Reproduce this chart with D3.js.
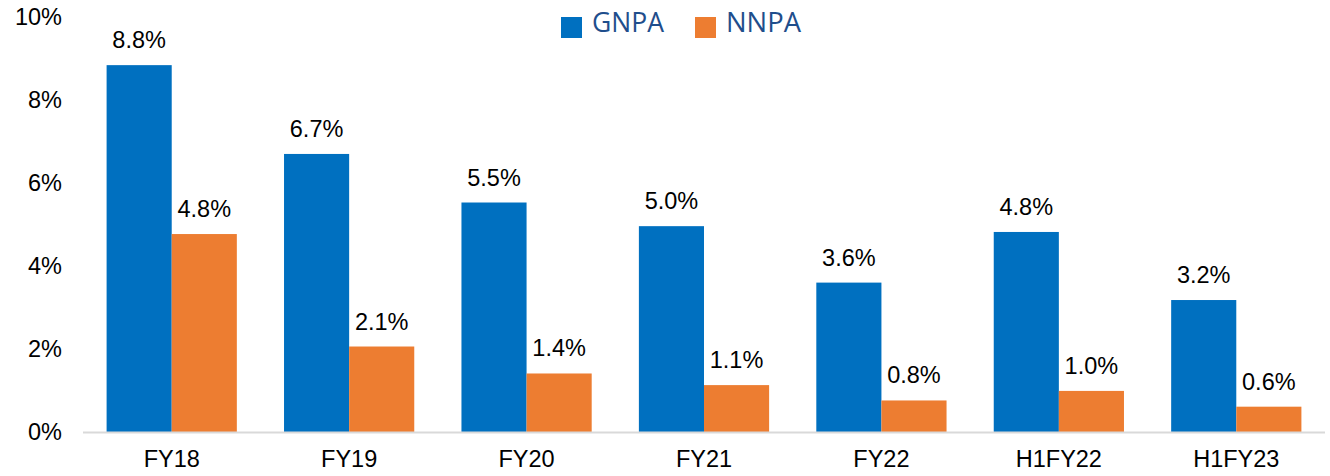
<!DOCTYPE html>
<html>
<head>
<meta charset="utf-8">
<script src="https://cdn.jsdelivr.net/npm/d3@7"></script>
<style>
  body { margin: 0; background: #fff; }
  svg text { font-family: "Liberation Sans", Arial, sans-serif; }
</style>
</head>
<body>
<svg id="chart" width="1330" height="476"></svg>
<script>
var categories = ['FY18', 'FY19', 'FY20', 'FY21', 'FY22', 'H1FY22', 'H1FY23'];
var gnpa = [8.84, 6.7, 5.53, 4.96, 3.6, 4.82, 3.18];
var nnpa = [4.77, 2.06, 1.41, 1.13, 0.76, 0.99, 0.61];
var yTicks = [0, 2, 4, 6, 8, 10];
var seriesNames = ['GNPA', 'NNPA'];
var colors = ['#0070C0', '#ED7D31'];

var svg = d3.select('#chart');
var margin = {left: 83, right: 5, top: 17, bottom: 44};
var W = 1330, H = 476;
var fs = '23.5px';

var x = d3.scaleBand()
  .domain(categories)
  .range([margin.left, W - margin.right])
  .paddingInner(0.266)
  .paddingOuter(0.133);

var y = d3.scaleLinear()
  .domain([0, 10])
  .range([H - margin.bottom, margin.top]);

var sub = d3.scaleBand()
  .domain(seriesNames)
  .range([0, x.bandwidth()]);

// y tick labels
svg.append('g')
  .selectAll('text')
  .data(yTicks)
  .enter().append('text')
  .attr('x', 62)
  .attr('y', function(d) { return y(d); })
  .attr('dy', '0.35em')
  .attr('text-anchor', 'end')
  .style('font-size', fs)
  .style('fill', '#000')
  .text(function(d) { return d + '%'; });

var rows = categories.map(function(c, i) {
  return {cat: c, vals: [gnpa[i], nnpa[i]]};
});

var groups = svg.append('g')
  .selectAll('g')
  .data(rows)
  .enter().append('g')
  .attr('transform', function(d) { return 'translate(' + x(d.cat) + ',0)'; });

groups.selectAll('rect')
  .data(function(d) { return d.vals.map(function(v, j) { return {v: v, s: seriesNames[j], j: j}; }); })
  .enter().append('rect')
  .attr('x', function(d) { return sub(d.s); })
  .attr('y', function(d) { return y(d.v); })
  .attr('width', sub.bandwidth())
  .attr('height', function(d) { return y(0) - y(d.v); })
  .style('fill', function(d) { return colors[d.j]; });

groups.selectAll('text.val')
  .data(function(d) { return d.vals.map(function(v, j) { return {v: v, s: seriesNames[j]}; }); })
  .enter().append('text')
  .attr('class', 'val')
  .attr('x', function(d) { return sub(d.s) + sub.bandwidth() / 2; })
  .attr('y', function(d) { return y(d.v) - 17; })
  .attr('text-anchor', 'middle')
  .style('font-size', fs)
  .style('fill', '#000')
  .text(function(d) { return d.v.toFixed(1) + '%'; });

// baseline
svg.append('line')
  .attr('x1', margin.left)
  .attr('x2', W - margin.right)
  .attr('y1', y(0) + 0.5)
  .attr('y2', y(0) + 0.5)
  .style('stroke', '#d9d9d9')
  .style('stroke-width', 2);

// category labels
svg.append('g')
  .selectAll('text')
  .data(categories)
  .enter().append('text')
  .attr('x', function(d) { return x(d) + x.bandwidth() / 2; })
  .attr('y', 467)
  .attr('text-anchor', 'middle')
  .style('font-size', fs)
  .style('fill', '#000')
  .text(function(d) { return d; });

// legend
var legendX = [561, 695];
var legend = svg.append('g')
  .selectAll('g')
  .data(seriesNames)
  .enter().append('g')
  .attr('transform', function(d, i) { return 'translate(' + legendX[i] + ',0)'; });

legend.append('rect')
  .attr('x', 0)
  .attr('y', 17)
  .attr('width', 21)
  .attr('height', 21)
  .style('fill', function(d, i) { return colors[i]; });

legend.append('text')
  .attr('x', 31)
  .attr('y', 32)
  .attr('textLength', function(d, i) { return i === 0 ? 72 : 75; })
  .attr('lengthAdjust', 'spacingAndGlyphs')
  .style('font-family', '"Open Sans", "Noto Sans", sans-serif')
  .style('font-size', '28px')
  .style('fill', '#1F4E8C')
  .text(function(d) { return d; });
</script>
</body>
</html>
